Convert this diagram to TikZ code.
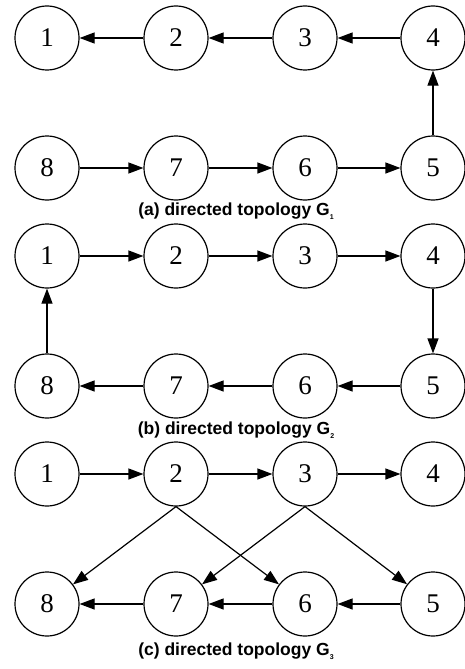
\documentclass[tikz,border=0pt]{standalone}
\usepackage{fontspec}
\setmainfont{Liberation Serif}
\newfontfamily\capfont{Liberation Sans}
\usetikzlibrary{arrows.meta}
\tikzset{
  vert/.style={circle,draw,line width=1.2pt,minimum size=64pt,inner sep=0pt,font=\fontsize{27}{27}\selectfont},
  edge/.style={line width=1.2pt,-{Triangle[length=15pt,width=11pt]}},
  captxt/.style={font=\capfont\bfseries\fontsize{17.5}{17.5}\selectfont,inner sep=0pt}
}
\newcommand{\subdig}[1]{\raisebox{-4pt}{\fontsize{7}{7}\selectfont #1}}
\begin{document}
\begin{tikzpicture}[x=1pt,y=-1pt]
\useasboundingbox (0,0) rectangle (465,669);
% (a)
\node[vert] (a1) at (47,38) {1};
\node[vert] (a2) at (176,38) {2};
\node[vert] (a3) at (305,38) {3};
\node[vert] (a4) at (433,38) {4};
\node[vert] (a8) at (47,168) {8};
\node[vert] (a7) at (176,168) {7};
\node[vert] (a6) at (305,168) {6};
\node[vert] (a5) at (433,168) {5};
\draw[edge] (a2) -- (a1);
\draw[edge] (a3) -- (a2);
\draw[edge] (a4) -- (a3);
\draw[edge] (a5) -- (a4);
\draw[edge] (a8) -- (a7);
\draw[edge] (a7) -- (a6);
\draw[edge] (a6) -- (a5);
\node[captxt] (ca) at (236,211) {(a) directed topology G\subdig{1}};
% (b)
\node[vert] (b1) at (47,256) {1};
\node[vert] (b2) at (176,256) {2};
\node[vert] (b3) at (305,256) {3};
\node[vert] (b4) at (433,256) {4};
\node[vert] (b8) at (47,386) {8};
\node[vert] (b7) at (176,386) {7};
\node[vert] (b6) at (305,386) {6};
\node[vert] (b5) at (433,386) {5};
\draw[edge] (b1) -- (b2);
\draw[edge] (b2) -- (b3);
\draw[edge] (b3) -- (b4);
\draw[edge] (b4) -- (b5);
\draw[edge] (b5) -- (b6);
\draw[edge] (b6) -- (b7);
\draw[edge] (b7) -- (b8);
\draw[edge] (b8) -- (b1);
\node[captxt] (cb) at (236,430) {(b) directed topology G\subdig{2}};
% (c)
\node[vert] (c1) at (47,474) {1};
\node[vert] (c2) at (176,474) {2};
\node[vert] (c3) at (305,474) {3};
\node[vert] (c4) at (433,474) {4};
\node[vert] (c8) at (47,604) {8};
\node[vert] (c7) at (176,604) {7};
\node[vert] (c6) at (305,604) {6};
\node[vert] (c5) at (433,604) {5};
\draw[edge] (c1) -- (c2);
\draw[edge] (c2) -- (c3);
\draw[edge] (c3) -- (c4);
\draw[edge] (c2.south) -- (c8);
\draw[edge] (c2.south) -- (c6);
\draw[edge] (c3.south) -- (c7);
\draw[edge] (c3.south) -- (c5);
\draw[edge] (c5) -- (c6);
\draw[edge] (c6) -- (c7);
\draw[edge] (c7) -- (c8);
\node[captxt] (cc) at (236,651) {(c) directed topology G\subdig{3}};
\end{tikzpicture}
\end{document}
